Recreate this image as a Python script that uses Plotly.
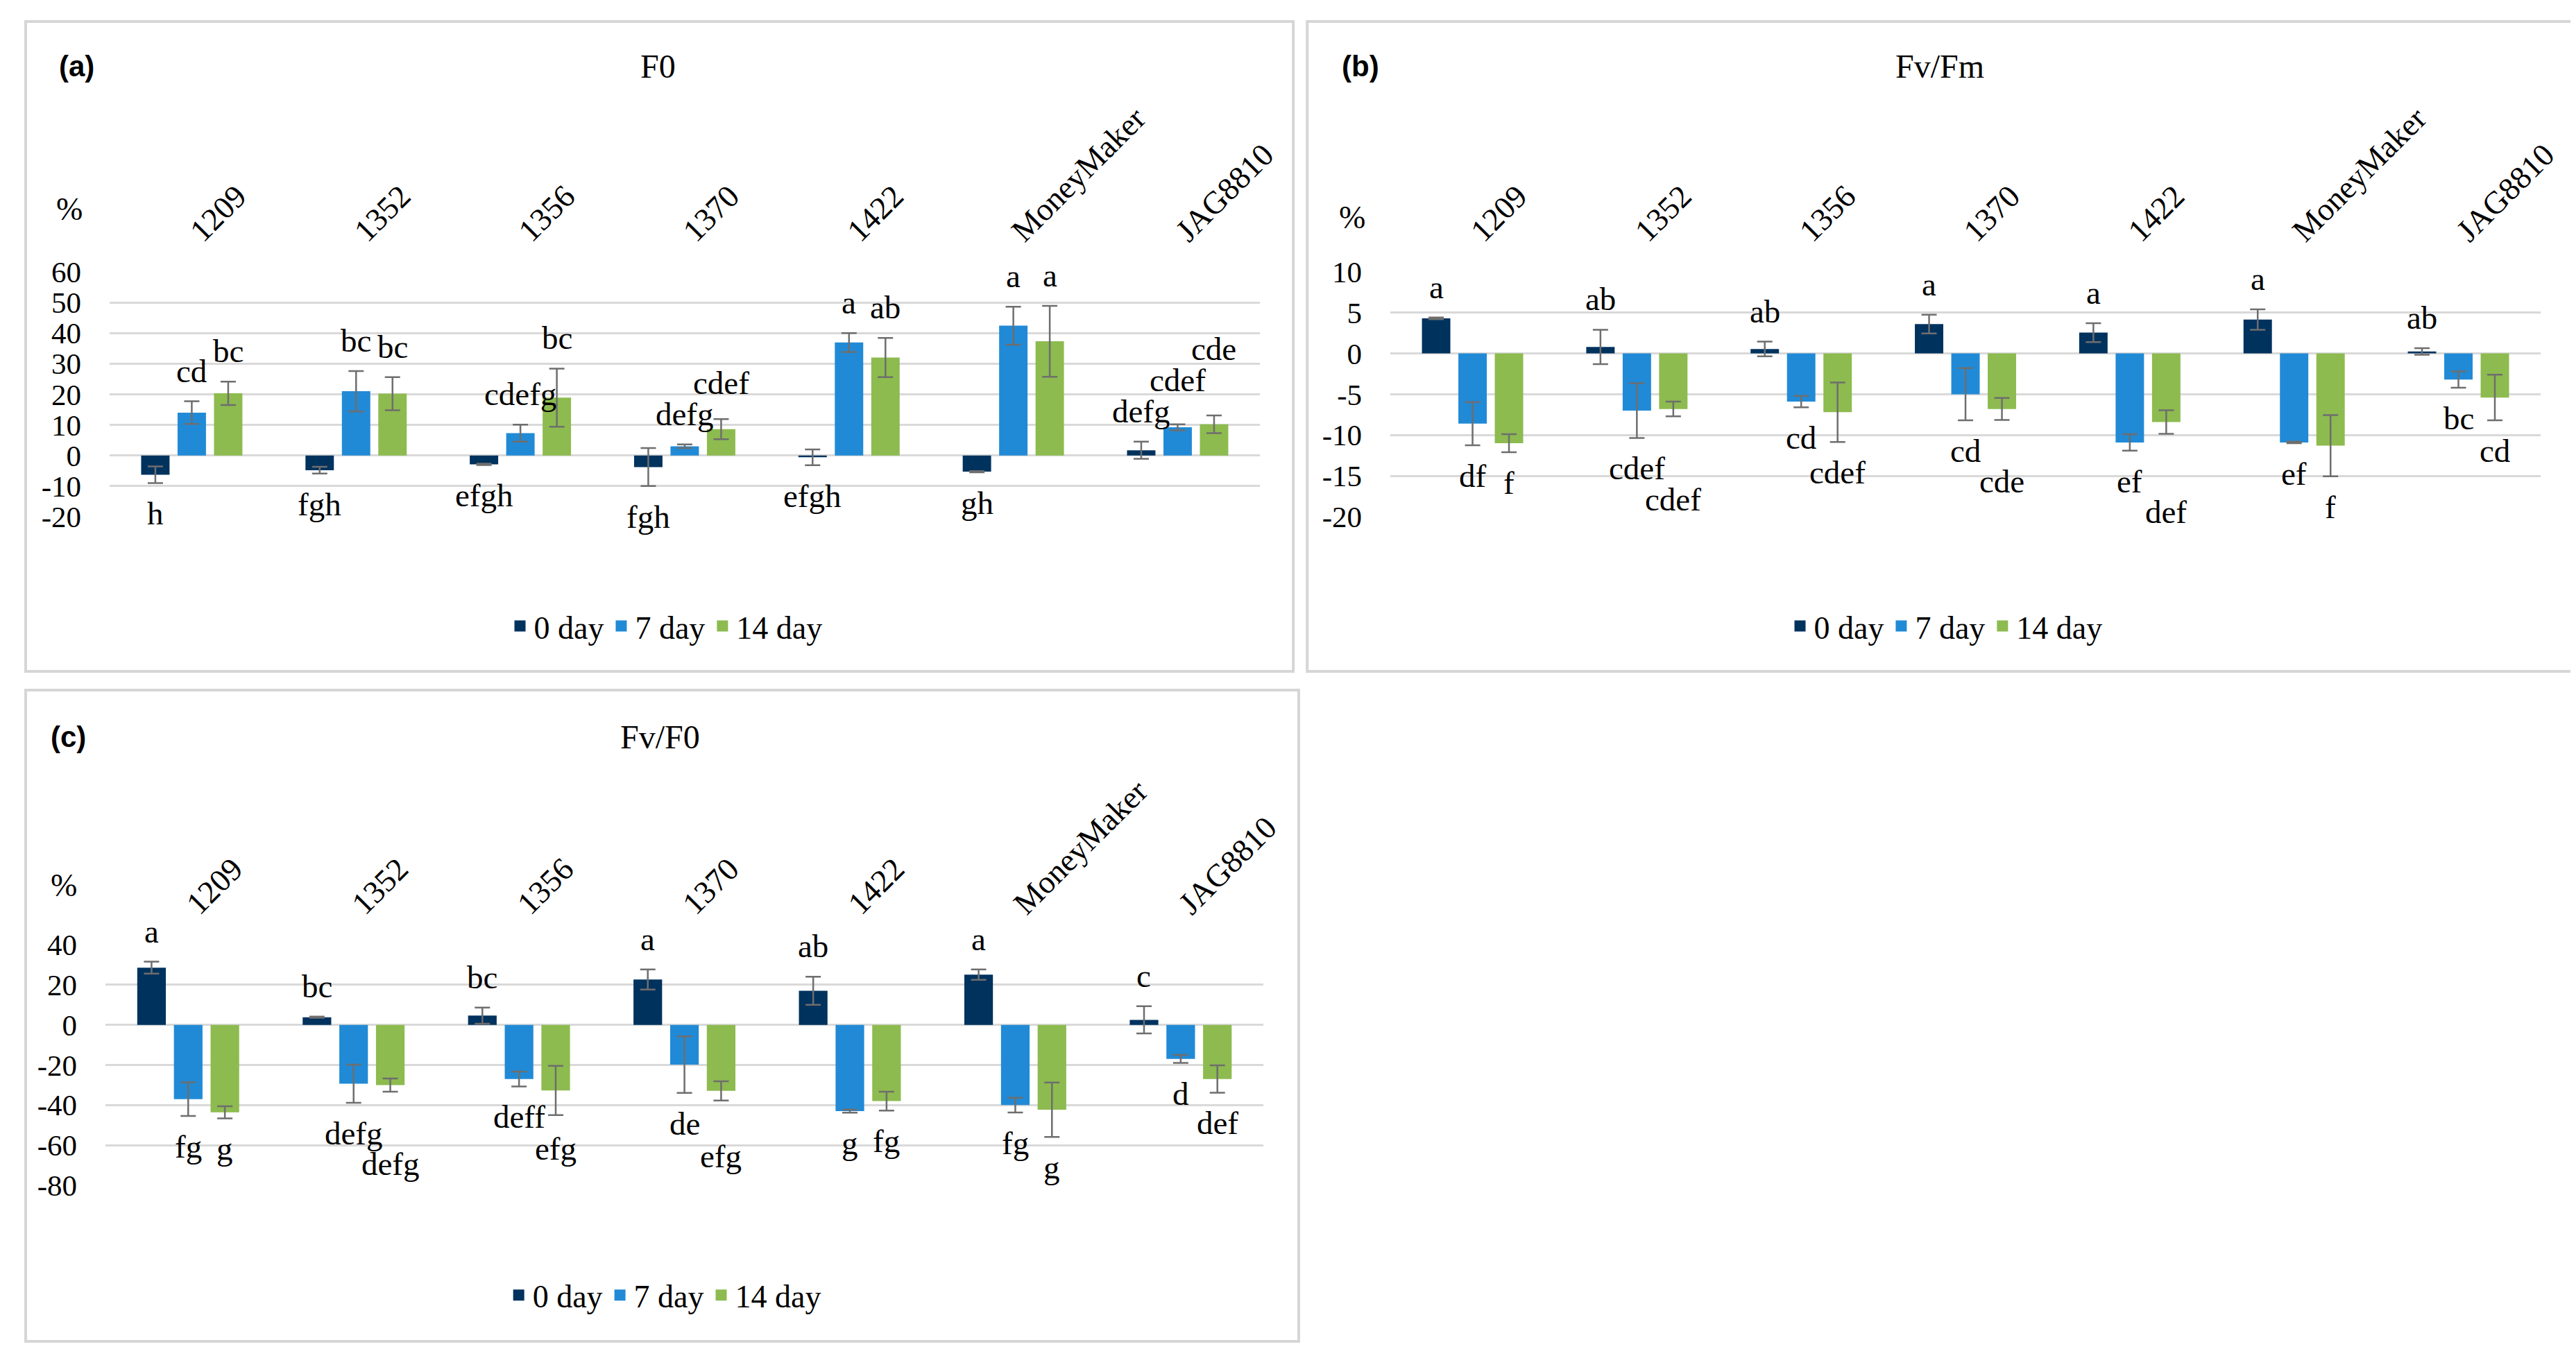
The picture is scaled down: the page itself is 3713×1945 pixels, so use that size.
import plotly.graph_objects as go

# ---------------- data ----------------
categories = ["1209", "1352", "1356", "1370", "1422", "MoneyMaker", "JAG8810"]
series_names = ["0 day", "7 day", "14 day"]

# (a) F0
f0_d0 = [-6.3, -4.8, -2.9, -3.8, -0.6, -5.3, 1.7]
f0_d0_err = [2.7, 1.1, 0.2, 6.2, 2.6, 0.2, 2.8]
f0_d7 = [14.0, 21.0, 7.3, 3.0, 36.9, 42.4, 9.2]
f0_d7_err = [3.7, 6.6, 2.8, 0.6, 3.1, 6.2, 1.0]
f0_d14 = [20.3, 20.2, 18.9, 8.6, 32.0, 37.3, 10.2]
f0_d14_err = [3.8, 5.4, 9.5, 3.3, 6.4, 11.6, 2.9]
f0_d0_lab = ["h", "fgh", "efgh", "fgh", "efgh", "gh", "defg"]
f0_d7_lab = ["cd", "bc", "cdefg", "defg", "a", "a", "cdef"]
f0_d14_lab = ["bc", "bc", "bc", "cdef", "ab", "a", "cde"]
f0_ticks = [60, 50, 40, 30, 20, 10, 0, -10, -20]

# (b) Fv/Fm
fm_d0 = [4.3, 0.8, 0.55, 3.6, 2.55, 4.15, 0.25]
fm_d0_err = [0.1, 2.1, 0.9, 1.15, 1.15, 1.25, 0.4]
fm_d7 = [-8.6, -7.0, -5.9, -5.0, -10.9, -10.9, -3.2]
fm_d7_err = [2.65, 3.35, 0.7, 3.2, 1.0, 0.1, 1.0]
fm_d14 = [-11.0, -6.8, -7.2, -6.8, -8.4, -11.3, -5.4]
fm_d14_err = [1.1, 0.9, 3.65, 1.35, 1.45, 3.75, 2.8]
fm_d0_lab = ["a", "ab", "ab", "a", "a", "a", "ab"]
fm_d7_lab = ["df", "cdef", "cd", "cd", "ef", "ef", "bc"]
fm_d14_lab = ["f", "cdef", "cdef", "cde", "def", "f", "cd"]
fm_ticks = [10, 5, 0, -5, -10, -15, -20]

# (c) Fv/F0
fr_d0 = [28.5, 3.8, 4.6, 22.6, 17.0, 25.0, 2.5]
fr_d0_err = [3.0, 0.3, 4.0, 5.0, 7.0, 2.6, 6.8]
fr_d7 = [-37.0, -29.3, -27.0, -19.8, -43.0, -40.0, -17.0]
fr_d7_err = [8.4, 9.5, 3.7, 14.1, 0.8, 3.7, 2.0]
fr_d14 = [-43.6, -30.0, -32.7, -32.9, -38.0, -42.3, -27.0]
fr_d14_err = [3.0, 3.3, 12.3, 4.8, 4.7, 13.6, 6.8]
fr_d0_lab = ["a", "bc", "bc", "a", "ab", "a", "c"]
fr_d7_lab = ["fg", "defg", "deff", "de", "g", "fg", "d"]
fr_d14_lab = ["g", "defg", "efg", "efg", "fg", "g", "def"]
fr_ticks = [40, 20, 0, -20, -40, -60, -80]

# ---------------- style ----------------
W, H = 3713, 1945
colors = ["#00325E", "#218AD6", "#8DBB4F"]
SERIF = "Liberation Serif"
GRID = "#d9d9d9"
BARGAP = 0.335
BARGROUPGAP = 0.22
slot = (1 - BARGAP) / 3
LAB_FS = 47
BASE_SHIFT = 16

panels = [
    dict(key="a", title="F0", vals=[f0_d0, f0_d7, f0_d14], errs=[f0_d0_err, f0_d7_err, f0_d14_err],
         labs=[f0_d0_lab, f0_d7_lab, f0_d14_lab], ticks=f0_ticks,
         xdom=[0.0404, 0.4869], ydom=[0.6211, 0.8026],
         box=[0.0078, 0.4999, 0.5064, 0.9882], tag_xy=(0.0275, 0.955), title_xy=(0.2534, 0.955),
         pct_xy=(0.0248, 0.849), legend_xy=(0.2564, 0.540), legend="legend"),
    dict(key="b", title="Fv/Fm", vals=[fm_d0, fm_d7, fm_d14], errs=[fm_d0_err, fm_d7_err, fm_d14_err],
         labs=[fm_d0_lab, fm_d7_lab, fm_d14_lab], ticks=fm_ticks,
         xdom=[0.5376, 0.9841], ydom=[0.6211, 0.8026],
         box=[0.5053, 0.9978, 0.5064, 0.9882], tag_xy=(0.526, 0.955), title_xy=(0.751, 0.955),
         pct_xy=(0.5228, 0.843), legend_xy=(0.7533, 0.540), legend="legend2"),
    dict(key="c", title="Fv/F0", vals=[fr_d0, fr_d7, fr_d14], errs=[fr_d0_err, fr_d7_err, fr_d14_err],
         labs=[fr_d0_lab, fr_d7_lab, fr_d14_lab], ticks=fr_ticks,
         xdom=[0.0388, 0.4883], ydom=[0.1254, 0.3039],
         box=[0.0078, 0.5020, 0.0098, 0.4925], tag_xy=(0.0243, 0.458), title_xy=(0.254, 0.458),
         pct_xy=(0.0226, 0.348), legend_xy=(0.2559, 0.044), legend="legend3"),
]


def overlaps(a, b):
    return a[0] < b[1] and b[0] < a[1] and a[2] < b[3] and b[2] < a[3]


fig = go.Figure()
annotations = []
shapes = []
layout_axes = {}

for pi, p in enumerate(panels):
    sfx = "" if pi == 0 else str(pi + 1)
    xref, yref = "x" + sfx, "y" + sfx
    ymin, ymax = min(p["ticks"]), max(p["ticks"])
    plot_w = (p["xdom"][1] - p["xdom"][0]) * W
    plot_h = (p["ydom"][1] - p["ydom"][0]) * H
    ppu = plot_h / (ymax - ymin)
    catw = plot_w / len(categories)

    for j in range(3):
        fig.add_trace(go.Bar(
            x=categories, y=p["vals"][j], name=series_names[j],
            marker=dict(color=colors[j], line=dict(width=0)),
            error_y=dict(type="data", array=p["errs"][j], visible=True,
                         color="#6e6e6e", thickness=2.5, width=11),
            xaxis=xref, yaxis=yref, showlegend=False,
        ))
    # legend entries (larger square swatches)
    for j in range(3):
        fig.add_trace(go.Scatter(
            x=[None], y=[None], mode="markers", name=series_names[j],
            marker=dict(symbol="square", size=24, color=colors[j]),
            xaxis=xref, yaxis=yref, legend=p["legend"], showlegend=True,
        ))

    # significance letters with simple collision avoidance (pixel space)
    placed = []
    for i in range(len(categories)):
        for j in range(3):
            v, e, t = p["vals"][j][i], p["errs"][j][i], p["labs"][j][i]
            pos = v >= 0
            xc = i + (j - 1) * slot
            yend = (v + e) if pos else (v - e)
            half_w = len(t) * 0.46 * LAB_FS / 2 + 2
            h = LAB_FS * 0.92
            shift = BASE_SHIFT
            for _ in range(60):
                base_px = yend * ppu + (shift if pos else -shift)
                box = (xc * catw - half_w, xc * catw + half_w,
                       base_px if pos else base_px - h, base_px + h if pos else base_px)
                if not any(overlaps(box, b) for b in placed):
                    break
                shift += 4
            placed.append(box)
            annotations.append(dict(
                x=xc, y=yend, xref=xref, yref=yref, text=t, showarrow=False,
                xanchor="center", yanchor="bottom" if pos else "top",
                yshift=shift if pos else -shift,
                font=dict(family=SERIF, size=LAB_FS, color="#000000"),
            ))

    layout_axes["xaxis" + sfx] = dict(
        domain=p["xdom"], anchor=yref, side="top", type="category",
        tickangle=-45, showgrid=False, zeroline=False, showline=False, ticks="",
        tickfont=dict(family=SERIF, size=46, color="#000000"),
        ticklabelstandoff=24, automargin=False, range=[-0.5, 6.5],
    )
    layout_axes["yaxis" + sfx] = dict(
        domain=p["ydom"], anchor=xref, range=[ymin, ymax],
        tickvals=p["ticks"], ticktext=[str(t) for t in p["ticks"]],
        showgrid=True, gridcolor=GRID, gridwidth=2.5,
        zeroline=True, zerolinecolor=GRID, zerolinewidth=2.5,
        showline=False, ticks="", ticklabelstandoff=40, automargin=False,
        tickfont=dict(family=SERIF, size=43, color="#000000"),
    )
    bx = p["box"]
    shapes.append(dict(type="rect", xref="paper", yref="paper", x0=bx[0], x1=bx[1], y0=bx[2], y1=bx[3],
                       line=dict(color="#d6d6d6", width=4), fillcolor="rgba(0,0,0,0)", layer="below"))
    annotations.append(dict(x=p["tag_xy"][0], y=p["tag_xy"][1], xref="paper", yref="paper",
                            xanchor="center", yanchor="middle",
                            text="<b>(" + p["key"] + ")</b>", showarrow=False,
                            font=dict(family="Liberation Sans", size=42, color="#000000")))
    annotations.append(dict(x=p["title_xy"][0], y=p["title_xy"][1], xref="paper", yref="paper",
                            xanchor="center", yanchor="middle",
                            text=p["title"], showarrow=False,
                            font=dict(family=SERIF, size=48, color="#000000")))
    annotations.append(dict(x=p["pct_xy"][0], y=p["pct_xy"][1], xref="paper", yref="paper",
                            xanchor="center", yanchor="middle",
                            text="%", showarrow=False,
                            font=dict(family=SERIF, size=46, color="#000000")))
    layout_axes[p["legend"]] = dict(
        x=p["legend_xy"][0], y=p["legend_xy"][1], xanchor="center", yanchor="middle",
        orientation="h", font=dict(family=SERIF, size=46, color="#000000"),
        bgcolor="rgba(0,0,0,0)", itemwidth=30, tracegroupgap=0, itemsizing="trace",
    )

fig.update_layout(
    width=W, height=H, autosize=False,
    margin=dict(l=0, r=0, t=0, b=0),
    paper_bgcolor="white", plot_bgcolor="white",
    barmode="group", bargap=BARGAP, bargroupgap=BARGROUPGAP,
    annotations=annotations, shapes=shapes,
    **layout_axes,
)

fig.write_html("out.html")
